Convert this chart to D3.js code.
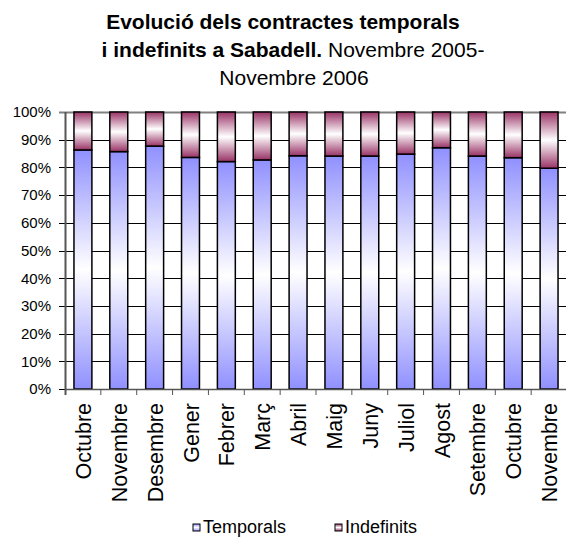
<!DOCTYPE html>
<html>
<head>
<meta charset="utf-8">
<script src="https://cdn.jsdelivr.net/npm/d3@7"></script>
<style>
  body { margin: 0; background: #fff; }
  svg { display: block; font-family: "Liberation Sans", Arial, sans-serif; }
</style>
</head>
<body>
<script>
// mesos (eix X)
var months = ["Octubre", "Novembre", "Desembre", "Gener", "Febrer", "Març", "Abril",
              "Maig", "Juny", "Juliol", "Agost", "Setembre", "Octubre", "Novembre"];
// percentatges llegits del gràfic
var temporals  = [86.3, 85.7, 87.7, 83.6, 82.1, 82.7, 84.2, 84.1, 84.1, 84.8, 87.1, 84.1, 83.5, 79.7];
var indefinits = [13.7, 14.3, 12.3, 16.4, 17.9, 17.3, 15.8, 15.9, 15.9, 15.2, 12.9, 15.9, 16.5, 20.3];
var seriesNames = ["Temporals", "Indefinits"];
var yTicks = [0, 10, 20, 30, 40, 50, 60, 70, 80, 90, 100];

var W = 566, H = 538;
var plot = { left: 65, right: 567, top: 112, bottom: 389 };

var rows = months.map(function(m, i) {
    return { idx: i, month: m, Temporals: temporals[i], Indefinits: indefinits[i] };
});

var svg = d3.select("body").append("svg")
    .attr("width", W)
    .attr("height", H);

// degradats estil Excel
var defs = svg.append("defs");
var colors = { Temporals: "#9090ff", Indefinits: "#993366" };
seriesNames.forEach(function(name) {
    var g = defs.append("linearGradient")
        .attr("id", "grad_" + name)
        .attr("x1", 0).attr("y1", 0).attr("x2", 0).attr("y2", 1);
    g.append("stop").attr("offset", "0%").attr("stop-color", colors[name]);
    g.append("stop").attr("offset", "50%").attr("stop-color", "#ffffff");
    g.append("stop").attr("offset", "100%").attr("stop-color", colors[name]);
});

var x = d3.scaleBand()
    .domain(d3.range(months.length))
    .range([plot.left, plot.right])
    .paddingInner(0.5)
    .paddingOuter(0.25);

var y = d3.scaleLinear()
    .domain([0, 1])
    .range([plot.bottom, plot.top]);

var stack = d3.stack()
    .keys(seriesNames)
    .offset(d3.stackOffsetExpand);
var stacked = stack(rows);

// línies de graella
svg.append("g")
    .selectAll("line")
    .data(yTicks)
    .join("line")
    .attr("x1", plot.left - 6)
    .attr("x2", plot.right)
    .attr("y1", function(d) { return Math.round(y(d / 100)) + 0.5; })
    .attr("y2", function(d) { return Math.round(y(d / 100)) + 0.5; })
    .attr("stroke", function(d) { return d === 100 ? "#808080" : "#000"; })
    .attr("stroke-width", function(d) { return d === 100 ? 2 : 1; });

// eix Y
var yAxis = d3.axisLeft(y)
    .tickValues(yTicks.map(function(d) { return d / 100; }))
    .tickFormat(function(d) { return Math.round(d * 100) + "%"; })
    .tickSize(0)
    .tickPadding(14);

svg.append("g")
    .attr("transform", "translate(" + plot.left + ",0)")
    .call(yAxis)
    .call(function(g) { g.select(".domain").remove(); })
    .selectAll("text")
    .attr("font-size", "15px")
    .attr("font-family", "Liberation Sans, Arial, sans-serif")
    .attr("fill", "#000");

svg.append("line")
    .attr("x1", plot.left + 0.5).attr("x2", plot.left + 0.5)
    .attr("y1", plot.top).attr("y2", plot.bottom + 6)
    .attr("stroke", "#555").attr("stroke-width", 2);

// barres apilades
svg.append("g")
    .selectAll("g")
    .data(stacked)
    .join("g")
    .attr("fill", function(d) { return "url(#grad_" + d.key + ")"; })
    .selectAll("rect")
    .data(function(d) { return d; })
    .join("rect")
    .attr("x", function(d) { return x(d.data.idx); })
    .attr("y", function(d) { return y(d[1]); })
    .attr("width", x.bandwidth())
    .attr("height", function(d) { return y(d[0]) - y(d[1]); })
    .attr("stroke", "#000")
    .attr("stroke-width", 1.5);

// eix X
var step = x.step();
svg.append("line")
    .attr("x1", plot.left).attr("x2", plot.right)
    .attr("y1", plot.bottom + 0.5).attr("y2", plot.bottom + 0.5)
    .attr("stroke", "#555").attr("stroke-width", 1.5);

svg.append("g")
    .selectAll("line")
    .data(d3.range(months.length))
    .join("line")
    .attr("x1", function(i) { return x(i) + x.bandwidth() / 2 + step / 2; })
    .attr("x2", function(i) { return x(i) + x.bandwidth() / 2 + step / 2; })
    .attr("y1", plot.bottom)
    .attr("y2", plot.bottom + 6)
    .attr("stroke", "#555");

svg.append("g")
    .selectAll("text")
    .data(rows)
    .join("text")
    .attr("transform", function(d) {
        return "translate(" + (x(d.idx) + x.bandwidth() / 2 + 8) + "," + (plot.bottom + 14) + ") rotate(-90)";
    })
    .attr("text-anchor", "end")
    .attr("font-size", "21.5px")
    .text(function(d) { return d.month; });

// títol
var title = svg.append("text")
    .attr("text-anchor", "middle")
    .attr("font-size", "21px")
    .attr("fill", "#000");
title.append("tspan")
    .attr("x", 283).attr("y", 29)
    .attr("font-weight", "bold")
    .text("Evolució dels contractes temporals");
var l2 = title.append("tspan").attr("x", 293).attr("y", 57);
l2.append("tspan").attr("font-weight", "bold").text("i indefinits a Sabadell.");
l2.append("tspan").text(" Novembre 2005-");
title.append("tspan")
    .attr("x", 294).attr("y", 85)
    .text("Novembre 2006");

// llegenda
var legendX = [193, 335];
var legend = svg.append("g")
    .selectAll("g")
    .data(seriesNames)
    .join("g")
    .attr("transform", function(d, i) { return "translate(" + legendX[i] + ",524)"; });
legend.append("rect")
    .attr("width", 7).attr("height", 7)
    .attr("fill", function(d) { return "url(#grad_" + d + ")"; })
    .attr("stroke", "#000")
    .attr("stroke-width", 1);
legend.append("text")
    .attr("x", 10)
    .attr("y", 9)
    .attr("font-size", "18px")
    .text(function(d) { return d; });
</script>
</body>
</html>
